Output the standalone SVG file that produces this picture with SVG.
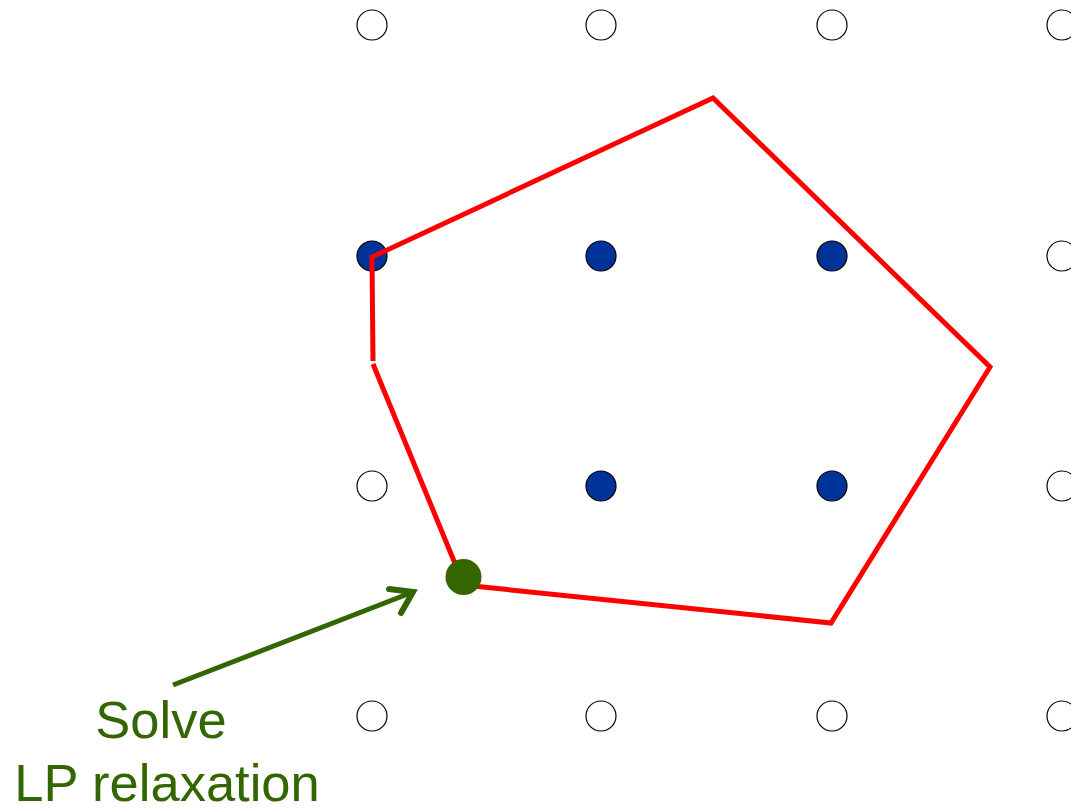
<svg xmlns="http://www.w3.org/2000/svg" width="1071" height="810" viewBox="0 0 1071 810">
<style>
.pt{fill:#fff;stroke:#000;stroke-width:1.2}
.ip{fill:#003399;stroke:#000;stroke-width:1.2}
.edge{fill:none;stroke:#ff0000;stroke-width:5;stroke-linejoin:miter}
.lbl{font-family:"Liberation Sans",Arial,sans-serif;font-size:52.5px;fill:#336600;text-anchor:middle}
</style>
<rect width="1071" height="810" fill="#fff"/>
<g id="grid">
<circle class="pt" cx="372" cy="25" r="15"/><circle class="pt" cx="601" cy="25" r="15"/><circle class="pt" cx="832" cy="25" r="15"/><circle class="pt" cx="1062" cy="25" r="15"/>
<circle class="pt" cx="1062" cy="256" r="15"/>
<circle class="pt" cx="372" cy="486" r="15"/><circle class="pt" cx="1062" cy="486" r="15"/>
<circle class="pt" cx="372" cy="716" r="15"/><circle class="pt" cx="601" cy="716" r="15"/><circle class="pt" cx="832" cy="716" r="15"/><circle class="pt" cx="1062" cy="716" r="15"/>
</g>
<g id="integer-points">
<circle class="ip" cx="372" cy="256" r="15"/><circle class="ip" cx="601" cy="256" r="15"/><circle class="ip" cx="832" cy="256" r="15"/>
<circle class="ip" cx="601" cy="486" r="15"/><circle class="ip" cx="832" cy="486" r="15"/>
</g>
<g id="connectors">
<polyline class="edge" points="373,361 372,257 713,98 990,367 831,623 463,585"/>
<polyline class="edge" points="463,585 456,566 373,364"/>
<line x1="173" y1="685" x2="413" y2="592" stroke="#336600" stroke-width="5"/>
<polyline points="389,589 413,592 401,613" fill="none" stroke="#336600" stroke-width="6" stroke-linecap="round" stroke-linejoin="miter"/>
</g>
<g id="lp-solution">
<circle cx="463.5" cy="577" r="18" fill="#336600"/>
</g>
<g id="label">
<text class="lbl" x="161" y="738">Solve</text>
<text class="lbl" x="167" y="801">LP relaxation</text>
</g>
</svg>
